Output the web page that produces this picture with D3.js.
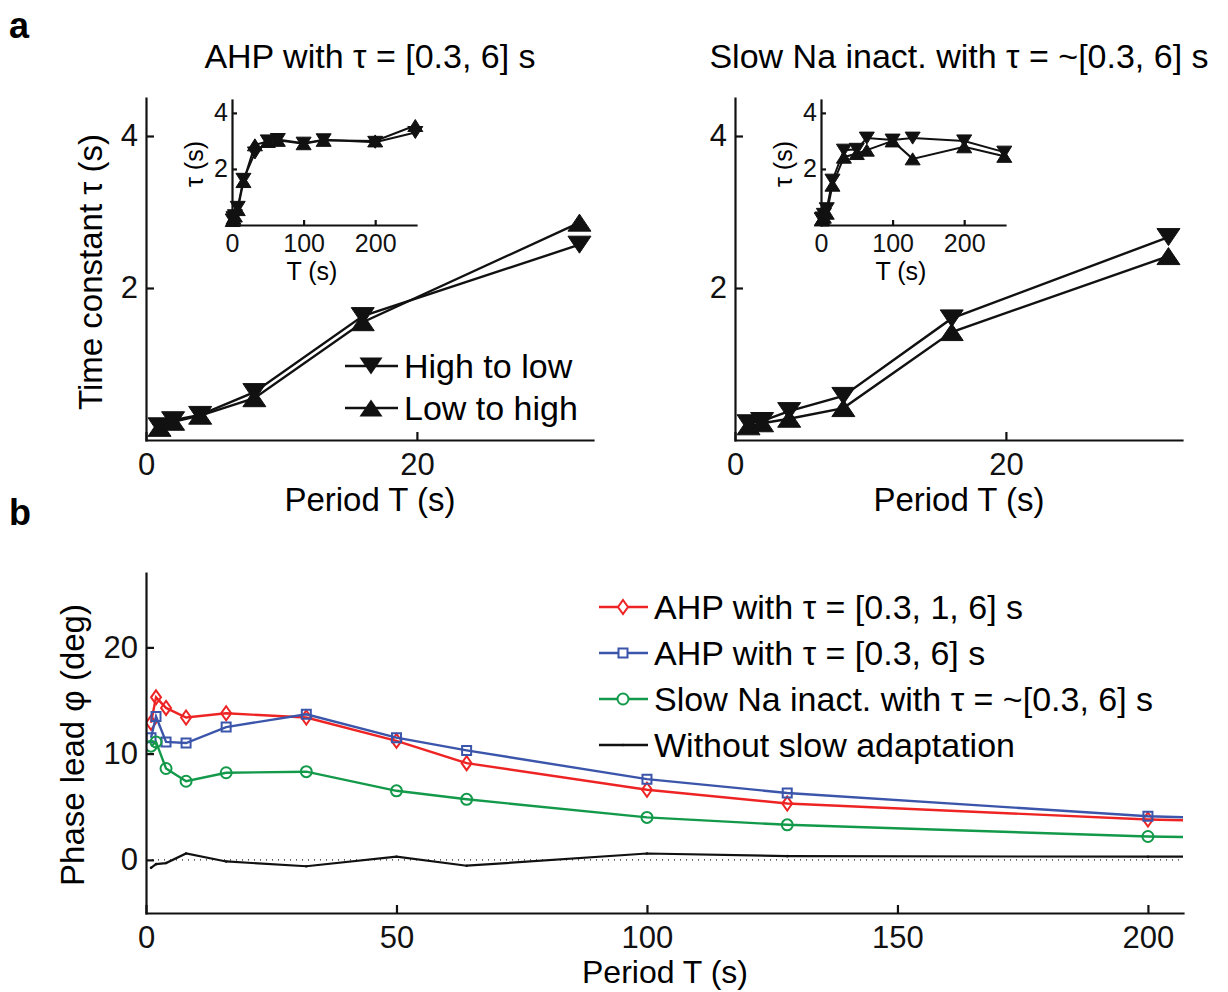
<!DOCTYPE html>
<html>
<head>
<meta charset="utf-8">
<script src="https://cdn.jsdelivr.net/npm/d3@7"></script>
<style>
  body { margin: 0; background: #fff; }
  svg { font-family: "Liberation Sans", Arial, Helvetica, sans-serif; }
  .axis path, .axis line { stroke: #111; stroke-width: 2.2; }
  .axis text { fill: #111; }
</style>
</head>
<body>
<svg id="fig" width="1228" height="992"></svg>
<script>
// periods (s) used in the simulations
var periods = [1, 2, 4, 8, 16, 32, 50, 64, 100, 128, 200, 256];
var mainCount = 6; // main panels only show T <= 32

// panel a, time constants (s)
var ahpHighToLow = [0.18, 0.26, 0.33, 0.63, 1.63, 2.57, 3.0, 3.05, 2.92, 3.04, 2.95, 3.3];
var ahpLowToHigh = [0.16, 0.24, 0.32, 0.55, 1.55, 2.86, 2.98, 3.02, 2.9, 3.02, 3.0, 3.55];
var naHighToLow = [0.22, 0.25, 0.38, 0.58, 1.6, 2.67, 2.7, 3.1, 3.03, 3.1, 3.0, 2.6];
var naLowToHigh = [0.18, 0.22, 0.28, 0.42, 1.42, 2.42, 2.55, 2.67, 3.0, 2.36, 2.79, 2.45];

// panel b, phase lead (deg)
var phaseAhp3 = [12.9, 15.3, 14.3, 13.4, 13.8, 13.4, 11.2, 9.1, 6.6, 5.3, 3.8, 3.2];
var phaseAhp2 = [11.5, 13.5, 11.1, 11.0, 12.5, 13.7, 11.5, 10.3, 7.6, 6.3, 4.1, 3.4];
var phaseNa = [10.7, 11.1, 8.6, 7.4, 8.2, 8.3, 6.5, 5.7, 4.0, 3.3, 2.2, 1.8];
var phaseNone = [-0.75, -0.4, -0.3, 0.6, -0.15, -0.6, 0.3, -0.55, 0.6, 0.35, 0.3, 0.3];

var titlesA = ["AHP with \u03c4 = [0.3, 6] s", "Slow Na inact. with \u03c4 = ~[0.3, 6] s"];
var legendA = ["High to low", "Low to high"];
var legendB = ["AHP with \u03c4 = [0.3, 1, 6] s", "AHP with \u03c4 = [0.3, 6] s",
               "Slow Na inact. with \u03c4 = ~[0.3, 6] s", "Without slow adaptation"];
var ticksMainX = [0, 20], ticksMainY = [2, 4];
var ticksInsetX = [0, 100, 200], ticksInsetY = [2, 4];
var ticksBX = [0, 50, 100, 150, 200], ticksBY = [0, 10, 20];

var RED = "#ee2424", BLUE = "#3b55aa", GREEN = "#13994a";

var svg = d3.select("#fig");
var fmt = d3.format("d");

function tri(w, h, up) {
  var s = up ? 1 : -1;
  return "M0," + (-s * h / 2) + "L" + (w / 2) + "," + (s * h / 2) + "L" + (-w / 2) + "," + (s * h / 2) + "Z";
}

function drawAxes(g, x, y, tx, ty, fs, tick, padX, padY) {
  var ax = g.append("g").attr("class", "axis").attr("transform", "translate(0," + y.range()[0] + ")")
    .call(d3.axisBottom(x).tickValues(tx).tickFormat(fmt).tickSizeInner(-tick).tickSizeOuter(0).tickPadding(padX));
  var ay = g.append("g").attr("class", "axis").attr("transform", "translate(" + x.range()[0] + ",0)")
    .call(d3.axisLeft(y).tickValues(ty).tickFormat(fmt).tickSizeInner(-tick).tickSizeOuter(0).tickPadding(padY));
  [ax, ay].forEach(function(a) {
    a.selectAll("text").style("font-size", fs + "px");
    a.select(".domain").attr("stroke-linecap", "square");
  });
}

function drawSeries(g, x, y, xs, ys, w, h, up, lw) {
  var pts = xs.map(function(t, i) { return [t, ys[i]]; });
  g.append("path").datum(pts)
    .attr("d", d3.line().x(function(d) { return x(d[0]); }).y(function(d) { return y(d[1]); }))
    .attr("fill", "none").attr("stroke", "#111").attr("stroke-width", lw);
  g.selectAll(null).data(pts).enter().append("path")
    .attr("d", tri(w, h, up))
    .attr("transform", function(d) { return "translate(" + x(d[0]) + "," + y(d[1]) + ")"; })
    .attr("fill", "#111").attr("stroke", "#111").attr("stroke-width", 1);
}

function panelA(left, hl, lh, title, withLegend) {
  var x = d3.scaleLinear().domain([0, 33]).range([left, left + 447]);
  var y = d3.scaleLinear().domain([0, 4.5]).range([440, 98]);
  var g = svg.append("g");
  var xs = periods.slice(0, mainCount);
  drawSeries(g, x, y, xs, hl.slice(0, mainCount), 23, 17, false, 2.4);
  drawSeries(g, x, y, xs, lh.slice(0, mainCount), 23, 17, true, 2.4);
  drawAxes(g, x, y, ticksMainX, ticksMainY, 31, 8, 13, 8);
  g.append("text").attr("x", left + 224).attr("y", 68).attr("text-anchor", "middle")
    .style("font-size", "34px").text(title);
  g.append("text").attr("x", left + 224).attr("y", 511).attr("text-anchor", "middle")
    .style("font-size", "33px").text("Period T (s)");

  // inset
  var xi = d3.scaleLinear().domain([0, 257]).range([left + 86, left + 270]);
  var yi = d3.scaleLinear().domain([0, 4.46]).range([225, 100]);
  var gi = svg.append("g");
  drawSeries(gi, xi, yi, periods, hl, 15, 12, false, 2);
  drawSeries(gi, xi, yi, periods, lh, 15, 12, true, 2);
  drawAxes(gi, xi, yi, ticksInsetX, ticksInsetY, 25, 5, 9, 4);
  gi.append("text").attr("x", left + 166).attr("y", 280).attr("text-anchor", "middle")
    .style("font-size", "25px").text("T (s)");
  gi.append("text").attr("transform", "translate(" + (left + 57) + ",164) rotate(-90)")
    .attr("text-anchor", "middle").style("font-size", "25px").text("\u03c4 (s)");

  if (withLegend) {
    [false, true].forEach(function(up, i) {
      var ly = 366 + i * 42;
      g.append("line").attr("x1", 345).attr("x2", 398).attr("y1", ly).attr("y2", ly)
        .attr("stroke", "#111").attr("stroke-width", 2.4);
      g.append("path").attr("d", tri(23, 17, up)).attr("transform", "translate(371," + ly + ")")
        .attr("fill", "#111");
      g.append("text").attr("x", 404).attr("y", ly + 12).style("font-size", "34px").text(legendA[i]);
    });
  }
}

panelA(146, ahpHighToLow, ahpLowToHigh, titlesA[0], true);
panelA(735, naHighToLow, naLowToHigh, titlesA[1], false);

svg.append("text").attr("transform", "translate(102,272) rotate(-90)").attr("text-anchor", "middle")
  .style("font-size", "33px").text("Time constant \u03c4 (s)");
svg.append("text").attr("x", 9).attr("y", 38).style("font-size", "36px").style("font-weight", "bold").text("a");
svg.append("text").attr("x", 9).attr("y", 525).style("font-size", "36px").style("font-weight", "bold").text("b");

// panel b
var xb = d3.scaleLinear().domain([0, 207]).range([146, 1183]);
var yb = d3.scaleLinear().domain([-5, 27]).range([913, 573]);
var gb = svg.append("g");
svg.append("clipPath").attr("id", "clipb").append("rect")
  .attr("x", 146).attr("y", 573).attr("width", 1037).attr("height", 340);

gb.append("line").attr("x1", xb(0)).attr("x2", xb(207)).attr("y1", yb(0)).attr("y2", yb(0))
  .attr("stroke", "#222").attr("stroke-width", 1.2).attr("stroke-dasharray", "1,5");

var seriesB = [
  { vals: phaseAhp3, color: RED, marker: "diamond" },
  { vals: phaseAhp2, color: BLUE, marker: "square" },
  { vals: phaseNa, color: GREEN, marker: "circle" },
  { vals: phaseNone, color: "#111", marker: "dot" }
];

function markerPath(m) {
  if (m === "diamond") return "M0,-7L5,0L0,7L-5,0Z";
  if (m === "square") return "M-4.5,-4.5H4.5V4.5H-4.5Z";
  if (m === "circle") return d3.arc()({ innerRadius: 0, outerRadius: 5.5, startAngle: 0, endAngle: 2 * Math.PI });
  return d3.arc()({ innerRadius: 0, outerRadius: 1.3, startAngle: 0, endAngle: 2 * Math.PI });
}

var gbc = gb.append("g").attr("clip-path", "url(#clipb)");
seriesB.forEach(function(s) {
  var pts = periods.map(function(t, i) { return [t, s.vals[i]]; });
  var lw = s.marker === "dot" ? 2.2 : 2.4;
  gbc.append("path").datum(pts)
    .attr("d", d3.line().x(function(d) { return xb(d[0]); }).y(function(d) { return yb(d[1]); }))
    .attr("fill", "none").attr("stroke", s.color).attr("stroke-width", lw);
  gbc.selectAll(null).data(pts).enter().append("path")
    .attr("d", markerPath(s.marker))
    .attr("transform", function(d) { return "translate(" + xb(d[0]) + "," + yb(d[1]) + ")"; })
    .attr("fill", s.marker === "dot" ? s.color : "none")
    .attr("stroke", s.color).attr("stroke-width", s.marker === "dot" ? 0 : 2);
});

drawAxes(gb, xb, yb, ticksBX, ticksBY, 31, 8, 13, 8);
gb.append("text").attr("x", 665).attr("y", 983).attr("text-anchor", "middle")
  .style("font-size", "32px").text("Period T (s)");
gb.append("text").attr("transform", "translate(84,745) rotate(-90)").attr("text-anchor", "middle")
  .style("font-size", "33px").text("Phase lead \u03c6 (deg)");

seriesB.forEach(function(s, i) {
  var ly = 607 + i * 46;
  gb.append("line").attr("x1", 599).attr("x2", 648).attr("y1", ly).attr("y2", ly)
    .attr("stroke", s.color).attr("stroke-width", 2.4);
  gb.append("path").attr("d", markerPath(s.marker)).attr("transform", "translate(623," + ly + ")")
    .attr("fill", s.marker === "dot" ? s.color : "white")
    .attr("stroke", s.color).attr("stroke-width", s.marker === "dot" ? 0 : 2);
  gb.append("text").attr("x", 654).attr("y", ly + 12).style("font-size", "34px").text(legendB[i]);
});
</script>
</body>
</html>
